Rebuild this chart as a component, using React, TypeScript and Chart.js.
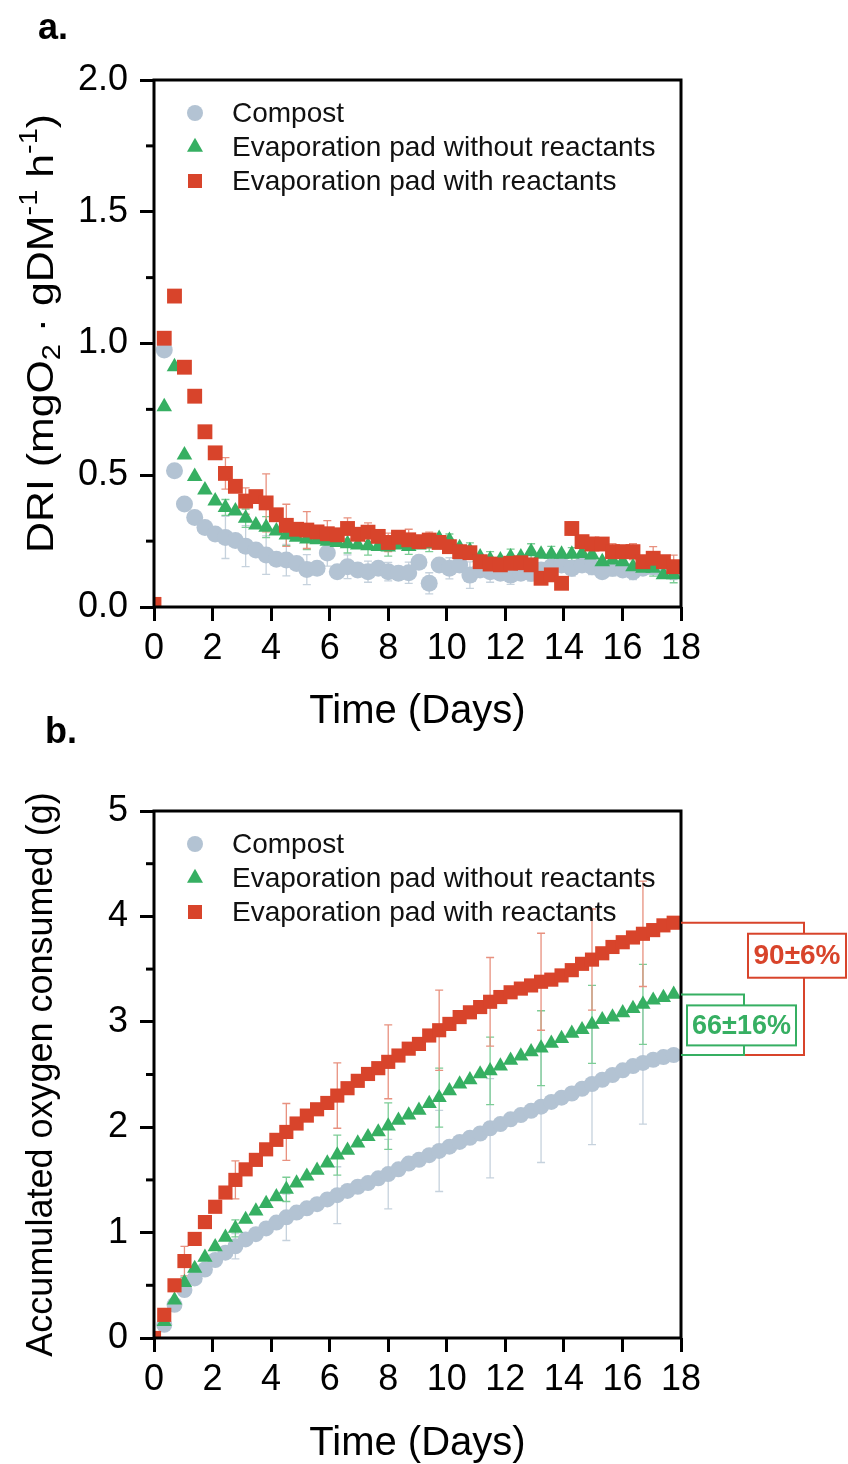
import React, { useEffect, useRef } from "react";
import { Chart, registerables } from "chart.js";

Chart.register(...registerables);

const FONT = '"Liberation Sans", Arial, Helvetica, sans-serif';

// ---------- DATA ----------
const timeDays = [
  0, 0.35, 0.7, 1.04, 1.39, 1.74, 2.09, 2.44, 2.78, 3.13,
  3.48, 3.83, 4.18, 4.52, 4.87, 5.22, 5.57, 5.92, 6.26, 6.61,
  6.96, 7.31, 7.66, 8.0, 8.35, 8.7, 9.05, 9.4, 9.74, 10.09,
  10.44, 10.79, 11.14, 11.48, 11.83, 12.18, 12.53, 12.88, 13.22, 13.57,
  13.92, 14.27, 14.62, 14.96, 15.31, 15.66, 16.01, 16.36, 16.7, 17.05,
  17.4, 17.75,
];

const seriesNames = ["Compost", "Evaporation pad without reactants", "Evaporation pad with reactants"];

// Panel a: DRI (mgO2 · gDM-1 h-1)
const driCompost = [
  null, 0.975, 0.517, 0.391, 0.34, 0.302, 0.277, 0.264, 0.252, 0.231,
  0.216, 0.197, 0.181, 0.178, 0.165, 0.142, 0.147, 0.205, 0.134, 0.153,
  0.14, 0.134, 0.147, 0.134, 0.128, 0.13, 0.17, 0.09, 0.159, 0.147,
  0.159, 0.121, 0.14, 0.134, 0.128, 0.121, 0.128, 0.128, 0.14, 0.153,
  0.159, 0.147, 0.159, 0.153, 0.134, 0.147, 0.14, 0.134, 0.147, 0.153,
  0.14, 0.134,
];
const driPadNo = [
  null, 0.76, 0.912, 0.577, 0.495, 0.444, 0.402, 0.378, 0.364, 0.337,
  0.311, 0.303, 0.288, 0.273, 0.265, 0.258, 0.255, 0.25, 0.245, 0.24,
  0.235, 0.232, 0.23, 0.228, 0.235, 0.23, 0.235, 0.24, 0.26, 0.252,
  0.225, 0.213, 0.19, 0.18, 0.178, 0.19, 0.19, 0.21, 0.2, 0.2,
  0.2, 0.2, 0.203, 0.197, 0.172, 0.178, 0.172, 0.153, 0.147, 0.147,
  0.122, 0.122,
];
const driPadWith = [
  0.01, 1.02, 1.18, 0.91, 0.8, 0.665, 0.585, 0.507, 0.458, 0.402,
  0.419, 0.395, 0.35, 0.31, 0.295, 0.292, 0.285, 0.278, 0.274, 0.298,
  0.276, 0.284, 0.268, 0.245, 0.265, 0.255, 0.248, 0.254, 0.245, 0.229,
  0.21, 0.206, 0.172, 0.163, 0.16, 0.166, 0.168, 0.16, 0.109, 0.122,
  0.09, 0.298, 0.248, 0.239, 0.239, 0.21, 0.21, 0.21, 0.172, 0.185,
  0.172, 0.153,
];
const driErrIndex = [7, 9, 11, 13, 15, 17, 19, 21, 23, 25, 27, 29, 31, 33, 35, 37, 39, 41, 43, 45, 47, 49, 51];
const driErrCompost = [0.08, 0.078, 0.073, 0.06, 0.057, 0.05, 0.045, 0.04, 0.035, 0.04, 0.04, 0.04, 0.05, 0.04, 0.035, 0.03, 0.03, 0.03, 0.03, 0.03, 0.03, 0.03, 0.03];
const driErrPadNo = [0.03, 0.035, 0.04, 0.04, 0.04, 0.04, 0.035, 0.035, 0.035, 0.03, 0.03, 0.025, 0.03, 0.03, 0.03, 0.03, 0.03, 0.025, 0.03, 0.03, 0.03, 0.03, 0.03];
const driErrPadWith = [0.06, 0.05, 0.11, 0.08, 0.07, 0.05, 0.04, 0.035, 0.035, 0.04, 0.03, 0.02, 0.02, 0.02, 0.02, 0.02, 0.02, 0.025, 0.025, 0.03, 0.03, 0.044, 0.044];

// Panel b: accumulated oxygen consumed (g)
const o2Compost = [
  null, 0.125, 0.315, 0.455, 0.565, 0.65, 0.74, 0.81, 0.87, 0.935,
  0.985, 1.04, 1.095, 1.145, 1.19, 1.23, 1.27, 1.315, 1.355, 1.395,
  1.435, 1.47, 1.515, 1.555, 1.6, 1.655, 1.69, 1.735, 1.775, 1.815,
  1.86, 1.9, 1.94, 1.99, 2.03, 2.075, 2.115, 2.155, 2.195, 2.24,
  2.28, 2.32, 2.365, 2.41, 2.45, 2.495, 2.54, 2.58, 2.61, 2.64,
  2.665, 2.685,
];
const o2PadNo = [
  null, 0.155, 0.36, 0.525, 0.66, 0.765, 0.865, 0.955, 1.04, 1.125,
  1.205, 1.275, 1.34, 1.41, 1.47, 1.535, 1.59, 1.66, 1.735, 1.78,
  1.85, 1.91, 1.955, 2.01, 2.065, 2.115, 2.16, 2.225, 2.28, 2.345,
  2.41, 2.45, 2.505, 2.535, 2.58, 2.635, 2.675, 2.715, 2.75, 2.795,
  2.84, 2.89, 2.925, 2.975, 3.02, 3.045, 3.085, 3.125, 3.165, 3.205,
  3.23, 3.26,
];
const o2PadWith = [
  0, 0.22, 0.5, 0.73, 0.94, 1.1, 1.245, 1.38, 1.5, 1.6,
  1.69, 1.79, 1.88, 1.955, 2.035, 2.11, 2.17, 2.23, 2.3, 2.37,
  2.44, 2.505, 2.56, 2.62, 2.68, 2.745, 2.79, 2.87, 2.92, 2.98,
  3.045, 3.09, 3.14, 3.19, 3.235, 3.28, 3.315, 3.345, 3.38, 3.4,
  3.44, 3.49, 3.55, 3.59, 3.65, 3.71, 3.755, 3.8, 3.835, 3.87,
  3.915, 3.94,
];
const o2ErrIndex = [3, 8, 13, 18, 23, 28, 33, 38, 43, 48];
const o2ErrCompost = [0.06, 0.12, 0.22, 0.27, 0.33, 0.385, 0.47, 0.53, 0.575, 0.58];
const o2ErrPadNo = [0.05, 0.08, 0.115, 0.19, 0.22, 0.28, 0.32, 0.355, 0.37, 0.38];
const o2ErrPadWith = [0.14, 0.18, 0.27, 0.31, 0.35, 0.38, 0.42, 0.46, 0.48, 0.5];

const bracketLabels = ["90±6%", "66±16%"];

const xTickStep = 2;
const driRange = [0, 2];
const driMinorTicks = [0.25, 0.75, 1.25, 1.75];
const o2Range = [0, 5];
const o2MinorTicks = [0.5, 1.5, 2.5, 3.5, 4.5];

// ---------- STYLE ----------
const COL = { compost: "#b3c3d3", padNo: "#36af62", padWith: "#d8442b" };
const ERRCOL = { compost: "#c6d2dd", padNo: "#7ccd96", padWith: "#e8917f" };
const SHAPES = ["circle", "triangle", "rect"];
const COLORS = [COL.compost, COL.padNo, COL.padWith];

function ds(label: string, values: (number | null)[], shape: string, radius: number, color: string, order: number) {
  return {
    label,
    data: values
      .map((v, i) => ({ x: timeDays[i], y: v }))
      .filter((p) => p.y !== null),
    pointStyle: shape,
    pointRadius: radius,
    pointHoverRadius: radius,
    pointBackgroundColor: color,
    pointBorderColor: color,
    pointBorderWidth: 0,
    backgroundColor: color,
    borderColor: color,
    showLine: false,
    clip: 0,
    order,
  };
}

function errorBarsPlugin(sets: { values: (number | null)[]; idx: number[]; err: number[]; color: string }[]) {
  return {
    id: "errorBars",
    beforeDatasetsDraw(chart: any) {
      const { ctx, chartArea, scales } = chart;
      const x = scales.x, y = scales.y;
      ctx.save();
      ctx.beginPath();
      ctx.rect(chartArea.left, chartArea.top, chartArea.right - chartArea.left, chartArea.bottom - chartArea.top);
      ctx.clip();
      ctx.lineWidth = 1.3;
      const cap = 4;
      sets.forEach((s) => {
        ctx.strokeStyle = s.color;
        s.idx.forEach((i, k) => {
          const v = s.values[i];
          const e = s.err[k];
          if (v === null || v === undefined || e === null) return;
          const px = x.getPixelForValue(timeDays[i]);
          const t = y.getPixelForValue(v + e);
          const b = y.getPixelForValue(v - e);
          ctx.beginPath();
          ctx.moveTo(px, t); ctx.lineTo(px, b);
          ctx.moveTo(px - cap, t); ctx.lineTo(px + cap, t);
          ctx.moveTo(px - cap, b); ctx.lineTo(px + cap, b);
          ctx.stroke();
        });
      });
      ctx.restore();
    },
  };
}

function framePlugin(minor: number[]) {
  return {
    id: "frame",
    afterDraw(chart: any) {
      const { ctx, chartArea } = chart;
      const y = chart.scales.y;
      ctx.save();
      ctx.strokeStyle = "#000";
      ctx.lineWidth = 3;
      ctx.strokeRect(chartArea.left, chartArea.top, chartArea.right - chartArea.left, chartArea.bottom - chartArea.top);
      minor.forEach((v) => {
        const py = y.getPixelForValue(v);
        ctx.beginPath();
        ctx.moveTo(chartArea.left - 8, py);
        ctx.lineTo(chartArea.left, py);
        ctx.stroke();
      });
      ctx.restore();
    },
  };
}

function drawMarker(ctx: CanvasRenderingContext2D, shape: string, x: number, y: number, size: number, color: string) {
  ctx.fillStyle = color;
  ctx.beginPath();
  if (shape === "circle") {
    ctx.arc(x, y, size / 2, 0, Math.PI * 2);
  } else if (shape === "rect") {
    ctx.rect(x - size / 2, y - size / 2, size, size);
  } else {
    const h = size * 0.87;
    ctx.moveTo(x, y - (h * 2) / 3);
    ctx.lineTo(x + size / 2, y + h / 3);
    ctx.lineTo(x - size / 2, y + h / 3);
    ctx.closePath();
  }
  ctx.fill();
}

const legendPlugin = {
  id: "insideLegend",
  afterDraw(chart: any) {
    const { ctx, chartArea } = chart;
    ctx.save();
    ctx.font = `28px ${FONT}`;
    ctx.textBaseline = "middle";
    ctx.textAlign = "left";
    const rows = [33, 67, 101];
    const sizes = [16, 16, 14];
    seriesNames.forEach((name, i) => {
      const yy = chartArea.top + rows[i];
      drawMarker(ctx, SHAPES[i], chartArea.left + 41, yy, sizes[i], COLORS[i]);
      ctx.fillStyle = "#111";
      ctx.fillText(name, chartArea.left + 78, yy + 1);
    });
    ctx.restore();
  },
};

function panelLabelPlugin(text: string, x: number, y: number) {
  return {
    id: "panelLabel",
    afterDraw(chart: any) {
      const ctx = chart.ctx;
      ctx.save();
      ctx.font = `bold 36px ${FONT}`;
      ctx.fillStyle = "#000";
      ctx.textBaseline = "alphabetic";
      ctx.textAlign = "left";
      ctx.fillText(text, x, y);
      ctx.restore();
    },
  };
}

const driTitlePlugin = {
  id: "driTitle",
  afterDraw(chart: any) {
    const ctx = chart.ctx;
    const size = 37;
    const segs = [
      { t: "DRI (mgO", k: "n" },
      { t: "2", k: "sub" },
      { t: " · gDM", k: "n" },
      { t: "-1", k: "sup" },
      { t: " h", k: "n" },
      { t: "-1", k: "sup" },
      { t: ")", k: "n" },
    ];
    const fontFor = (k: string) => (k === "n" ? `${size}px ${FONT}` : `${Math.round(size * 0.68)}px ${FONT}`);
    ctx.save();
    let total = 0;
    const widths = segs.map((s) => {
      ctx.font = fontFor(s.k);
      const w = ctx.measureText(s.t).width;
      total += w;
      return w;
    });
    const startY = 553;
    const endY = 114;
    const sx = (startY - endY) / total;
    ctx.translate(53, startY);
    ctx.rotate(-Math.PI / 2);
    ctx.scale(sx, 1);
    ctx.fillStyle = "#000";
    ctx.textBaseline = "alphabetic";
    ctx.textAlign = "left";
    let pos = 0;
    segs.forEach((s, i) => {
      ctx.font = fontFor(s.k);
      const dy = s.k === "sup" ? -size * 0.42 : s.k === "sub" ? size * 0.2 : 0;
      ctx.fillText(s.t, pos, dy);
      pos += widths[i];
    });
    ctx.restore();
  },
};

const bracketPlugin = {
  id: "brackets",
  afterDraw(chart: any) {
    const { ctx, chartArea } = chart;
    const y = chart.scales.y;
    const r = chartArea.right;
    const yRed = y.getPixelForValue(o2PadWith[o2PadWith.length - 1] as number);
    const yGreen = y.getPixelForValue(o2PadNo[o2PadNo.length - 1] as number);
    const yComp = y.getPixelForValue(o2Compost[o2Compost.length - 1] as number);
    ctx.save();
    ctx.lineWidth = 2;
    // red bracket
    ctx.strokeStyle = COL.padWith;
    ctx.beginPath();
    ctx.moveTo(r, yRed);
    ctx.lineTo(r + 123, yRed);
    ctx.lineTo(r + 123, yComp);
    ctx.lineTo(r + 63, yComp);
    ctx.stroke();
    // green bracket
    ctx.strokeStyle = COL.padNo;
    ctx.beginPath();
    ctx.moveTo(r, yGreen);
    ctx.lineTo(r + 63, yGreen);
    ctx.lineTo(r + 63, yComp);
    ctx.lineTo(r, yComp);
    ctx.stroke();
    // red label box
    ctx.fillStyle = "#fff";
    ctx.strokeStyle = COL.padWith;
    ctx.fillRect(r + 67, yRed + 11, 98, 44);
    ctx.strokeRect(r + 67, yRed + 11, 98, 44);
    ctx.font = `bold 28px ${FONT}`;
    ctx.textAlign = "center";
    ctx.textBaseline = "middle";
    ctx.fillStyle = COL.padWith;
    ctx.fillText(bracketLabels[0], r + 116, yRed + 34);
    // green label box
    ctx.fillStyle = "#fff";
    ctx.strokeStyle = COL.padNo;
    ctx.fillRect(r + 6, yGreen + 11, 109, 40);
    ctx.strokeRect(r + 6, yGreen + 11, 109, 40);
    ctx.font = `bold 27px ${FONT}`;
    ctx.fillStyle = COL.padNo;
    ctx.fillText(bracketLabels[1], r + 60.5, yGreen + 32);
    ctx.restore();
  },
};

const gridOpts = {
  display: true,
  drawOnChartArea: false,
  drawTicks: true,
  tickLength: 14,
  tickWidth: 3,
  tickColor: "#000",
  color: "#000",
};

function xScale(height: number) {
  return {
    type: "linear",
    min: 0,
    max: 18,
    afterFit: (s: any) => {
      s.height = height;
    },
    ticks: {
      stepSize: xTickStep,
      padding: 6,
      autoSkip: false,
      maxRotation: 0,
      color: "#000",
      font: { family: FONT, size: 36 },
    },
    grid: gridOpts,
    border: { display: false },
    title: {
      display: true,
      text: "Time (Days)",
      color: "#000",
      font: { family: FONT, size: 40, lineHeight: 1 },
      padding: { top: 0, bottom: 0 },
    },
  };
}

function configA() {
  return {
    type: "scatter",
    data: {
      datasets: [
        ds(seriesNames[0], driCompost, "circle", 8.5, COL.compost, 3),
        ds(seriesNames[1], driPadNo, "triangle", 9, COL.padNo, 2),
        ds(seriesNames[2], driPadWith, "rect", 10.5, COL.padWith, 1),
      ],
    },
    options: {
      responsive: false,
      animation: false,
      devicePixelRatio: 1,
      events: [],
      layout: { padding: { top: 80, right: 167, left: 0, bottom: 0 } },
      plugins: { legend: { display: false }, tooltip: { enabled: false } },
      scales: {
        x: xScale(125),
        y: {
          type: "linear",
          min: driRange[0],
          max: driRange[1],
          afterFit: (s: any) => {
            s.width = 154;
          },
          ticks: {
            stepSize: 0.5,
            padding: 12,
            color: "#000",
            font: { family: FONT, size: 36 },
            callback: (v: any) => Number(v).toFixed(1),
          },
          grid: gridOpts,
          border: { display: false },
          title: { display: false },
        },
      },
    },
    plugins: [
      errorBarsPlugin([
        { values: driCompost, idx: driErrIndex, err: driErrCompost, color: ERRCOL.compost },
        { values: driPadNo, idx: driErrIndex, err: driErrPadNo, color: ERRCOL.padNo },
        { values: driPadWith, idx: driErrIndex, err: driErrPadWith, color: ERRCOL.padWith },
      ]),
      framePlugin(driMinorTicks),
      legendPlugin,
      driTitlePlugin,
      panelLabelPlugin("a.", 38, 39),
    ],
  };
}

function configB() {
  return {
    type: "scatter",
    data: {
      datasets: [
        ds(seriesNames[0], o2Compost, "circle", 8, COL.compost, 3),
        ds(seriesNames[1], o2PadNo, "triangle", 8.8, COL.padNo, 2),
        ds(seriesNames[2], o2PadWith, "rect", 10, COL.padWith, 1),
      ],
    },
    options: {
      responsive: false,
      animation: false,
      devicePixelRatio: 1,
      events: [],
      layout: { padding: { top: 121, right: 167, left: 0, bottom: 0 } },
      plugins: { legend: { display: false }, tooltip: { enabled: false } },
      scales: {
        x: xScale(126),
        y: {
          type: "linear",
          min: o2Range[0],
          max: o2Range[1],
          afterFit: (s: any) => {
            s.width = 154;
          },
          ticks: {
            stepSize: 1,
            padding: 12,
            color: "#000",
            font: { family: FONT, size: 36 },
          },
          grid: gridOpts,
          border: { display: false },
          title: {
            display: true,
            text: "Accumulated oxygen consumed (g)",
            color: "#000",
            font: { family: FONT, size: 36, lineHeight: 1.2 },
            padding: { top: 20, bottom: 0 },
          },
        },
      },
    },
    plugins: [
      errorBarsPlugin([
        { values: o2Compost, idx: o2ErrIndex, err: o2ErrCompost, color: ERRCOL.compost },
        { values: o2PadNo, idx: o2ErrIndex, err: o2ErrPadNo, color: ERRCOL.padNo },
        { values: o2PadWith, idx: o2ErrIndex, err: o2ErrPadWith, color: ERRCOL.padWith },
      ]),
      framePlugin(o2MinorTicks),
      legendPlugin,
      bracketPlugin,
      panelLabelPlugin("b.", 45, 53),
    ],
  };
}

function ChartCanvas({ top, height, build }: { top: number; height: number; build: () => any }) {
  const ref = useRef<HTMLCanvasElement | null>(null);
  useEffect(() => {
    if (!ref.current) return;
    const chart = new Chart(ref.current, build());
    return () => chart.destroy();
  }, []);
  return (
    <canvas
      ref={ref}
      width={848}
      height={height}
      style={{ position: "absolute", left: 0, top, width: 848, height, display: "block" }}
    />
  );
}

export default function App() {
  return (
    <div style={{ position: "absolute", left: 0, top: 0, width: 848, height: 1464, background: "#fff", overflow: "hidden" }}>
      <ChartCanvas top={0} height={732} build={configA} />
      <ChartCanvas top={690} height={774} build={configB} />
    </div>
  );
}
